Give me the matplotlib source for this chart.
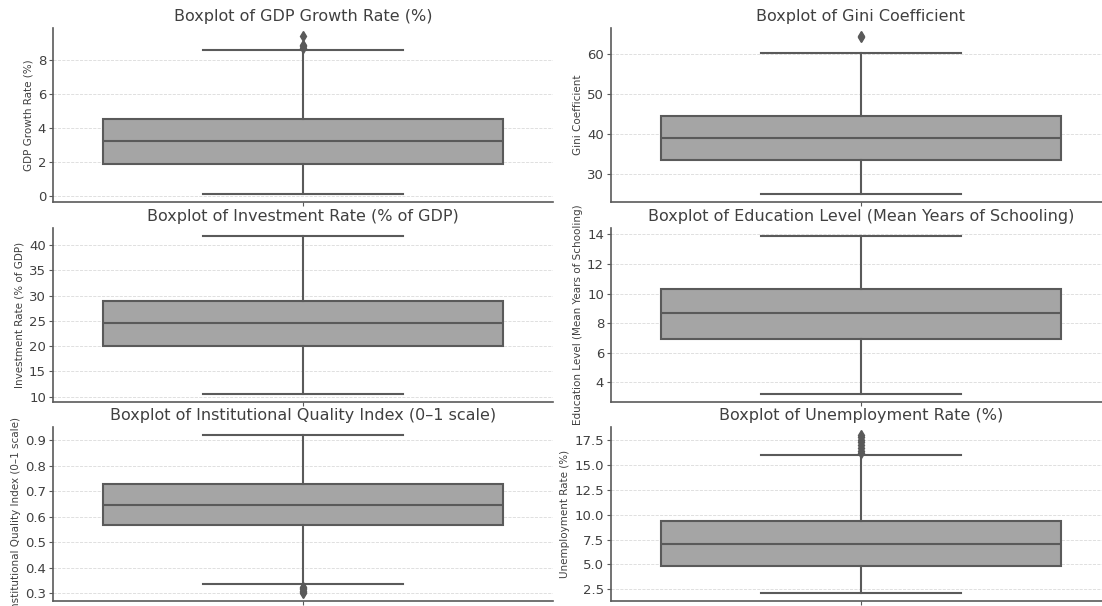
import matplotlib
matplotlib.use("Agg")
import matplotlib.pyplot as plt
from matplotlib.ticker import MultipleLocator

# Summary statistics per indicator: lower whisker, Q1, median, Q3, upper whisker, outliers
titles = [
    "Boxplot of GDP Growth Rate (%)",
    "Boxplot of Gini Coefficient",
    "Boxplot of Investment Rate (% of GDP)",
    "Boxplot of Education Level (Mean Years of Schooling)",
    "Boxplot of Institutional Quality Index (0\u20131 scale)",
    "Boxplot of Unemployment Rate (%)",
]
ylabels = [
    "GDP Growth Rate (%)",
    "Gini Coefficient",
    "Investment Rate (% of GDP)",
    "Education Level (Mean Years of Schooling)",
    "Institutional Quality Index (0\u20131 scale)",
    "Unemployment Rate (%)",
]
whislo = [0.1, 25.0, 10.5, 3.2, 0.335, 2.1]
q1 = [1.85, 33.5, 20.1, 6.95, 0.567, 4.8]
med = [3.25, 39.0, 24.5, 8.7, 0.647, 7.05]
q3 = [4.55, 44.5, 28.9, 10.3, 0.727, 9.35]
whishi = [8.6, 60.2, 41.8, 13.9, 0.92, 16.05]
outliers = [
    [8.75, 8.85, 8.9, 9.45],
    [64.3, 64.6],
    [],
    [],
    [0.300, 0.305, 0.310, 0.315, 0.320, 0.325],
    [16.2, 16.4, 16.7, 17.0, 17.3, 17.5, 17.8, 18.05],
]
tick_steps = [2, 10, 5, 2, 0.1, 2.5]

W, H = 1102, 606
fig = plt.figure(figsize=(W / 100, H / 100), dpi=100)
fig.patch.set_facecolor("white")

line_c = "#5a5a5a"
fill_c = "#a5a5a5"
text_c = "#404040"

# panel placement in pixels: (left, right) and (top, bottom)
col_x = [(53, 553), (611, 1111)]
row_y = [(28, 202), (228, 402), (427, 601)]

for i in range(6):
    r, c = divmod(i, 2)
    x0, x1 = col_x[c]
    y0, y1 = row_y[r]
    ax = fig.add_axes([x0 / W, 1 - y1 / H, (x1 - x0) / W, (y1 - y0) / H])
    stats = [dict(whislo=whislo[i], q1=q1[i], med=med[i], q3=q3[i],
                  whishi=whishi[i], fliers=outliers[i])]
    ax.bxp(stats, positions=[0], widths=0.8, patch_artist=True,
           boxprops=dict(facecolor=fill_c, edgecolor=line_c, linewidth=1.5),
           medianprops=dict(color=line_c, linewidth=1.5),
           whiskerprops=dict(color=line_c, linewidth=1.5),
           capprops=dict(color=line_c, linewidth=1.5),
           flierprops=dict(marker="d", markerfacecolor=line_c,
                           markeredgecolor=line_c, markersize=5))
    ax.set_xlim(-0.5, 0.5)
    ax.set_xticks([0])
    ax.set_xticklabels([])
    ax.margins(y=0.05)
    ax.yaxis.set_major_locator(MultipleLocator(tick_steps[i]))
    ax.grid(axis="y", color="#dadada", linestyle="--", linewidth=0.6)
    ax.set_axisbelow(True)
    for s in ("top", "right"):
        ax.spines[s].set_visible(False)
    for s in ("left", "bottom"):
        ax.spines[s].set_color(line_c)
        ax.spines[s].set_linewidth(1.2)
    ax.tick_params(axis="both", colors=line_c, length=3, width=0.8,
                   labelsize=9.5, labelcolor=text_c, pad=2)
    ax.set_title(titles[i], fontsize=11.5, color=text_c, pad=5)
    ax.set_ylabel(ylabels[i], fontsize=7.5, color=text_c, labelpad=3)

fig.savefig("out.png", dpi=100, facecolor="white")
